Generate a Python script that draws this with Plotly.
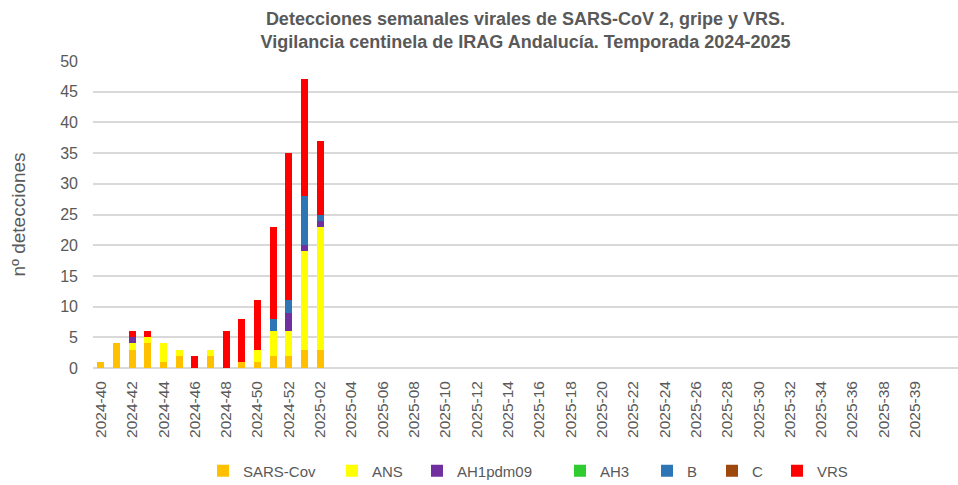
import plotly.graph_objects as go

# Weekly slots of the season (53 slots on the axis)
weeks = [f"2024-{w}" for w in range(40, 53)] + [f"2025-{w:02d}" for w in range(1, 41)]

# Tick labels as shown on the axis (every second slot)
tick_labels = ["2024-40", "2024-42", "2024-44", "2024-46", "2024-48", "2024-50", "2024-52",
               "2025-02", "2025-04", "2025-06", "2025-08", "2025-10", "2025-12", "2025-14",
               "2025-16", "2025-18", "2025-20", "2025-22", "2025-24", "2025-26", "2025-28",
               "2025-30", "2025-32", "2025-34", "2025-36", "2025-38", "2025-39"]

n_rest = len(weeks) - 15
sars_cov = [1, 4, 3, 4, 1, 2, 0, 2, 0, 1, 1, 2, 2, 3, 3] + [0] * n_rest
ans      = [0, 0, 1, 1, 3, 1, 0, 1, 0, 0, 2, 4, 4, 16, 20] + [0] * n_rest
ah1pdm09 = [0, 0, 1, 0, 0, 0, 0, 0, 0, 0, 0, 0, 3, 1, 1] + [0] * n_rest
ah3      = [0] * len(weeks)
b        = [0, 0, 0, 0, 0, 0, 0, 0, 0, 0, 0, 2, 2, 8, 1] + [0] * n_rest
c        = [0] * len(weeks)
vrs      = [0, 0, 1, 1, 0, 0, 2, 0, 6, 7, 8, 15, 24, 19, 12] + [0] * n_rest

series_names = ["SARS-Cov", "ANS", "AH1pdm09", "AH3", "B", "C", "VRS"]
series_values = [sars_cov, ans, ah1pdm09, ah3, b, c, vrs]
series_colors = ["#FFC000", "#FFFF00", "#7030A0", "#2ECC2E", "#2E75B6", "#9E480E", "#FF0000"]
legend_left_px = [222, 351, 436, 579, 666, 731, 796]

W, H = 958, 485
font = "Liberation Sans, Arial, sans-serif"
gray = "#595959"

x_idx = list(range(len(weeks)))
fig = go.Figure()
legend_ids = [f"legend{i}" for i in range(2, 9)]
for name, vals, col, lid in zip(series_names, series_values, series_colors, legend_ids):
    fig.add_trace(go.Bar(x=x_idx, y=vals, name=name, marker=dict(color=col, line=dict(width=0)),
                         legend=lid, hovertext=weeks))

layout_legends = {}
for lid, lx in zip(legend_ids, legend_left_px):
    layout_legends[lid] = dict(
        x=(lx - 19) / W, xref="container", xanchor="left",
        y=1 - 471 / H, yref="container", yanchor="middle",
        orientation="h", bgcolor="rgba(0,0,0,0)",
        font=dict(family=font, size=15, color=gray),
    )

tickvals = list(range(0, len(weeks), 2))

fig.update_layout(
    width=W, height=H,
    paper_bgcolor="white", plot_bgcolor="white",
    margin=dict(l=93, r=0, t=61, b=117),
    barmode="stack", bargap=0.55,
    showlegend=True,
    title=dict(
        text="<b>Detecciones semanales virales de SARS-CoV 2, gripe y VRS.<br>Vigilancia centinela de IRAG Andalucía. Temporada 2024-2025</b>",
        x=0.5, xref="paper", xanchor="center", y=1 - 25 / H, yref="container", yanchor="top",
        font=dict(family=font, size=18, color=gray),
    ),
    xaxis=dict(
        range=[-0.5, 54.74], tickmode="array", tickvals=tickvals, ticktext=tick_labels,
        tickangle=-90, tickfont=dict(family=font, size=15.5, color=gray),
        showgrid=False, zeroline=False, showline=False, ticks="", ticklabelstandoff=9,
    ),
    yaxis=dict(
        range=[0, 50], dtick=5, tickfont=dict(family=font, size=16, color=gray),
        showgrid=True, gridcolor="#D9D9D9", gridwidth=1.5, zeroline=True,
        zerolinecolor="#D9D9D9", zerolinewidth=1.5, showline=False, ticks="",
        ticklabelstandoff=14,
        title=dict(text="nº detecciones", font=dict(family=font, size=19, color=gray), standoff=29),
    ),
    **layout_legends,
)

fig.write_html("out.html", config={"displayModeBar": False},
               post_script="document.body.style.margin='0';")
